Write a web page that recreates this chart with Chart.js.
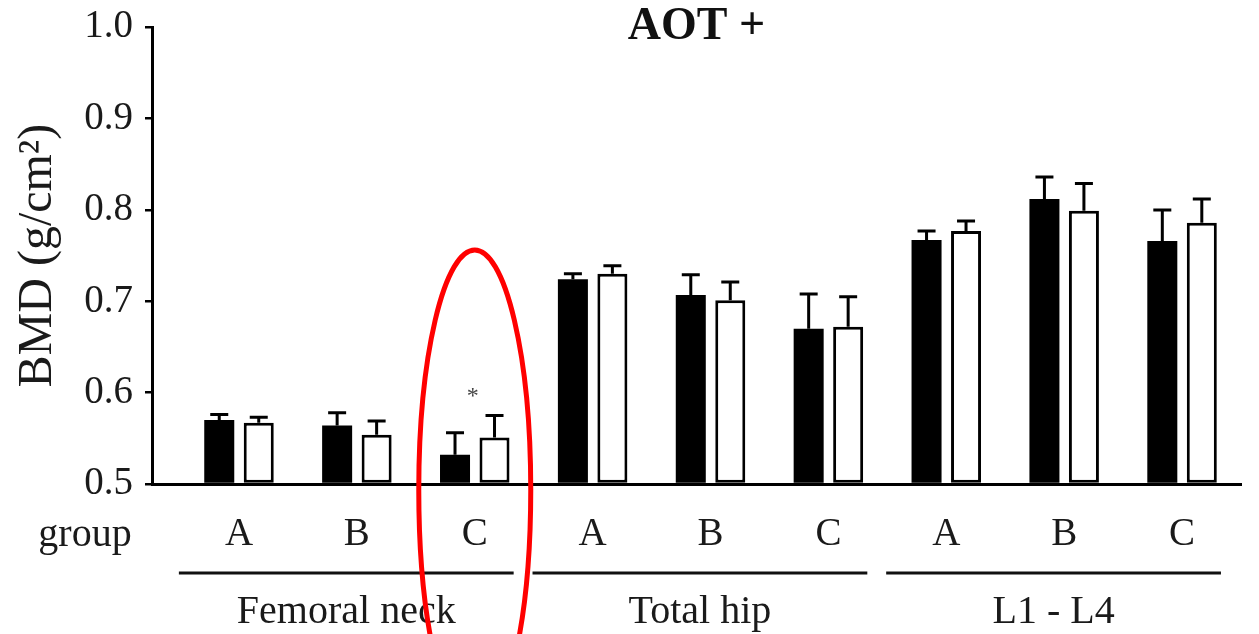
<!DOCTYPE html>
<html><head><meta charset="utf-8">
<script src="https://cdn.jsdelivr.net/npm/chart.js@4.4.0/dist/chart.umd.min.js"></script>
<style>html,body{margin:0;padding:0;background:#fff;}#wrap{width:1259px;height:634px;}</style>
</head><body><div id="wrap"><canvas id="c" width="1259" height="634"></canvas></div>
<script>
// ---- data ----
const categories = ['A','B','C','A','B','C','A','B','C'];
const regions = ['Femoral neck','Total hip','L1 - L4'];
const regionSpans = [[0,2],[3,5],[6,8]];
const seriesBlack = [0.570, 0.564, 0.532, 0.724, 0.707, 0.670, 0.767, 0.812, 0.766];
const errorBlack  = [0.006, 0.014, 0.024, 0.006, 0.022, 0.038, 0.010, 0.024, 0.034];
const seriesWhite = [0.567, 0.554, 0.551, 0.730, 0.701, 0.672, 0.777, 0.799, 0.786];
const errorWhite  = [0.006, 0.015, 0.024, 0.009, 0.020, 0.033, 0.011, 0.030, 0.026];
const yTicks = [0.5, 0.6, 0.7, 0.8, 0.9, 1.0];
const significance = [{index: 2, value: 0.6, text: '*'}];
const highlight = {index: 2, value: 0.4935, rx: 0.475, ry: 0.2626};

const SERIF = 'Liberation Serif';
const TEXT = '#1a1a1a';

const extrasPlugin = {
  id: 'extras',
  afterDatasetsDraw(chart) {
    const ctx = chart.ctx;
    const ys = chart.scales.y;
    ctx.save();
    ctx.strokeStyle = '#000';
    ctx.lineWidth = 3;
    chart.data.datasets.forEach((ds, di) => {
      const meta = chart.getDatasetMeta(di);
      meta.data.forEach((el, i) => {
        const v = ds.data[i].y;
        const yTop = el.y;
        const yCap = ys.getPixelForValue(v + ds.errors[i]);
        ctx.beginPath();
        ctx.moveTo(el.x, yTop);
        ctx.lineTo(el.x, yCap);
        ctx.moveTo(el.x - 9, yCap);
        ctx.lineTo(el.x + 9, yCap);
        ctx.stroke();
      });
    });
    ctx.restore();
  },
  afterDraw(chart) {
    const ctx = chart.ctx;
    const xs = chart.scales.x, ys = chart.scales.y;
    ctx.save();
    // significance marks
    ctx.fillStyle = '#444';
    ctx.font = '24px "' + SERIF + '"';
    ctx.textAlign = 'center';
    ctx.textBaseline = 'alphabetic';
    significance.forEach(s => {
      ctx.fillText(s.text, xs.getPixelForValue(s.index) - 2, ys.getPixelForValue(s.value) + 10);
    });
    // "group" label
    ctx.fillStyle = TEXT;
    ctx.font = '40px "' + SERIF + '"';
    ctx.fillText('group', 85, 546);
    // region lines and labels
    ctx.strokeStyle = '#111';
    ctx.lineWidth = 3;
    regionSpans.forEach((sp, k) => {
      const x1 = xs.getPixelForValue(sp[0] - 0.51);
      const x2 = xs.getPixelForValue(sp[1] + 0.33);
      ctx.beginPath();
      ctx.moveTo(x1, 573);
      ctx.lineTo(x2, 573);
      ctx.stroke();
      ctx.font = '40px "' + SERIF + '"';
      ctx.fillText(regions[k], (x1 + x2) / 2, 623);
    });
    // red highlight ellipse
    const cx = xs.getPixelForValue(highlight.index);
    const cy = ys.getPixelForValue(highlight.value);
    const rx = xs.getPixelForValue(highlight.index + highlight.rx) - cx;
    const ry = ys.getPixelForValue(highlight.value - highlight.ry) - cy;
    ctx.strokeStyle = '#ff0000';
    ctx.lineWidth = 5;
    ctx.beginPath();
    ctx.ellipse(cx, cy, rx, ry, 0, 0, Math.PI * 2);
    ctx.stroke();
    ctx.restore();
  }
};

new Chart(document.getElementById('c').getContext('2d'), {
  type: 'bar',
  data: {
    datasets: [
      {label: 'black', data: seriesBlack.map((v, i) => ({x: i, y: v})), errors: errorBlack,
       backgroundColor: '#000', borderColor: '#000', borderWidth: 0, base: 0.5},
      {label: 'white', data: seriesWhite.map((v, i) => ({x: i, y: v})), errors: errorWhite,
       backgroundColor: '#fff', borderColor: '#000', borderWidth: 3, borderSkipped: false, base: 0.5}
    ]
  },
  options: {
    responsive: false,
    animation: false,
    devicePixelRatio: 1,
    categoryPercentage: 0.67,
    barPercentage: 0.76,
    layout: {padding: {left: 0, right: 18, top: 0, bottom: 0}},
    plugins: {
      legend: {display: false},
      tooltip: {enabled: false},
      title: {display: true, text: 'AOT +', fullSize: false, color: '#111',
        font: {family: SERIF, size: 46, weight: 'bold'}, padding: {top: 0, bottom: -28}}
    },
    scales: {
      x: {
        type: 'linear', min: -0.738, max: 8.5, offset: false,
        grid: {display: false, drawTicks: false},
        border: {display: true, color: '#000', width: 3},
        afterBuildTicks: s => { s.ticks = categories.map((c, i) => ({value: i})); },
        ticks: {autoSkip: false, maxRotation: 0, padding: 27, color: TEXT,
          font: {family: SERIF, size: 39},
          callback: v => (categories[v] !== undefined ? categories[v] : '')},
        afterFit: s => { s.height = 150; s.paddingLeft = 0; s.paddingRight = 0; }
      },
      y: {
        min: 0.5, max: 1.0,
        afterBuildTicks: s => { s.ticks = yTicks.map(v => ({value: v})); },
        grid: {display: true, drawOnChartArea: false, drawTicks: true, tickLength: 7, color: '#000', lineWidth: 2.5},
        border: {display: true, color: '#000', width: 3},
        ticks: {padding: 12, color: TEXT, font: {family: SERIF, size: 39}, callback: v => v.toFixed(1)},
        title: {display: true, text: 'BMD (g/cm²)', color: TEXT, font: {family: SERIF, size: 48}, padding: {top: 10, bottom: 0}},
        afterFit: s => { s.width = 152; s.paddingTop = 0; s.paddingBottom = 0; }
      }
    }
  },
  plugins: [extrasPlugin]
});
</script>
</body></html>
